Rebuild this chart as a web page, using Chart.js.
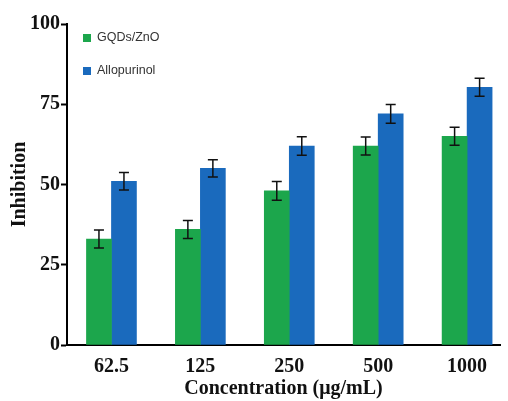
<!DOCTYPE html>
<html>
<head>
<meta charset="utf-8">
<script src="https://cdn.jsdelivr.net/npm/chart.js@4.4.1/dist/chart.umd.min.js"></script>
<style>
  html, body { margin: 0; padding: 0; background: #fff; }
  #wrap { width: 508px; height: 401px; }
</style>
</head>
<body>
<div id="wrap"><canvas id="chartBars"></canvas></div>
<script>
const categories = ["62.5", "125", "250", "500", "1000"];
const seriesNames = ["GQDs/ZnO", "Allopurinol"];
const gqdsValues = [33, 36, 48, 62, 65];
const gqdsErrors = [2.8, 2.8, 2.9, 2.8, 2.8];
const alloValues = [51, 55, 62, 72, 80.3];
const alloErrors = [2.7, 2.7, 2.9, 2.9, 2.8];
const yTicks = [0, 25, 50, 75, 100];
const colors = ["#1ca64c", "#1a6abd"];

const serif = "'Liberation Serif', 'Times New Roman', serif";

// error bars + legend drawn after the bars
const errorBars = {
    id: "errorBars",
    afterDatasetsDraw(chart) {
        const ctx = chart.ctx;
        const yScale = chart.scales.y;
        ctx.save();
        ctx.strokeStyle = "#111";
        ctx.lineWidth = 1.5;
        chart.data.datasets.forEach((ds, d) => {
            const meta = chart.getDatasetMeta(d);
            meta.data.forEach((bar, i) => {
                const v = ds.data[i].y;
                const e = ds.errors[i];
                const top = yScale.getPixelForValue(v + e);
                const bot = yScale.getPixelForValue(v - e);
                ctx.beginPath();
                ctx.moveTo(bar.x, top);
                ctx.lineTo(bar.x, bot);
                ctx.moveTo(bar.x - 5, top);
                ctx.lineTo(bar.x + 5, top);
                ctx.moveTo(bar.x - 5, bot);
                ctx.lineTo(bar.x + 5, bot);
                ctx.stroke();
            });
        });

        // legend, top left of the plot
        const area = chart.chartArea;
        ctx.font = "12.5px 'Liberation Sans', Arial, sans-serif";
        ctx.textBaseline = "middle";
        chart.data.datasets.forEach((ds, d) => {
            const y = area.top + 14 + d * 33;
            ctx.fillStyle = ds.backgroundColor;
            ctx.fillRect(area.left + 16, y - 4, 8, 8);
            ctx.fillStyle = "#333";
            ctx.fillText(ds.label, area.left + 30, y);
        });
        ctx.restore();
    }
};

const datasets = [
    { label: seriesNames[0], data: gqdsValues.map((v, i) => ({ x: i, y: v })), errors: gqdsErrors, backgroundColor: colors[0] },
    { label: seriesNames[1], data: alloValues.map((v, i) => ({ x: i, y: v })), errors: alloErrors, backgroundColor: colors[1] }
];

const ctx = document.getElementById("chartBars").getContext("2d");
new Chart(ctx, {
    type: "bar",
    data: { datasets: datasets },
    plugins: [errorBars],
    options: {
        responsive: true,
        maintainAspectRatio: false,
        animation: false,
        barThickness: 25,
        layout: { padding: { top: 24, right: 8, left: 0, bottom: 0 } },
        scales: {
            x: {
                type: "linear",
                min: -0.5,
                max: 4.37,
                offset: false,
                afterBuildTicks: (s) => { s.ticks = categories.map((c, i) => ({ value: i })); },
                afterFit: (s) => { s.height = 56; },
                grid: { display: false, drawTicks: false },
                border: { display: true, color: "#000", width: 2 },
                ticks: {
                    callback: (v) => categories[v],
                    color: "#111",
                    padding: 10,
                    maxRotation: 0,
                    font: { family: serif, size: 20, weight: "bold" }
                },
                title: {
                    display: true,
                    text: "Concentration (μg/mL)",
                    color: "#111",
                    padding: { top: 2, bottom: 0 },
                    font: { family: serif, size: 20, weight: "bold" }
                }
            },
            y: {
                min: 0,
                max: 100,
                afterBuildTicks: (s) => { s.ticks = yTicks.map(v => ({ value: v })); },
                afterFit: (s) => { s.width = 67; },
                grid: { drawOnChartArea: false, drawTicks: true, tickLength: 6, tickColor: "#000", tickWidth: 2 },
                border: { display: true, color: "#000", width: 2 },
                ticks: {
                    color: "#111",
                    padding: 1,
                    font: { family: serif, size: 20, weight: "bold" }
                },
                title: {
                    display: true,
                    text: "Inhibition",
                    color: "#111",
                    padding: { top: 8, bottom: 0 },
                    font: { family: serif, size: 20, weight: "bold" }
                }
            }
        },
        plugins: {
            legend: { display: false },
            tooltip: { enabled: false }
        }
    }
});
</script>
</body>
</html>
